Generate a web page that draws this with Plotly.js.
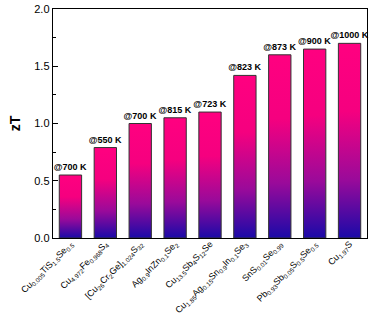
<!DOCTYPE html>
<html>
<head>
<meta charset="utf-8">
<script src="https://cdn.plot.ly/plotly-3.0.1.min.js"></script>
<style>html,body{margin:0;padding:0;background:#fff;}#chart{width:375px;height:314px;}</style>
</head>
<body>
<div id="chart"></div>
<script>
const categories = [
  "Cu<sub>0.005</sub>TiS<sub>1.5</sub>Se<sub>0.5</sub>",
  "Cu<sub>4.972</sub>Fe<sub>0.968</sub>S<sub>4</sub>",
  "[Cu<sub>26</sub>Cr<sub>2</sub>Ge]<sub>1.024</sub>S<sub>32</sub>",
  "Ag<sub>0.9</sub>InZn<sub>0.1</sub>Se<sub>2</sub>",
  "Cu<sub>13.5</sub>Sb<sub>4</sub>S<sub>12</sub>Se",
  "Cu<sub>1.85</sub>Ag<sub>0.15</sub>Sn<sub>0.9</sub>In<sub>0.1</sub>Se<sub>3</sub>",
  "SnS<sub>0.01</sub>Se<sub>0.99</sub>",
  "Pb<sub>0.93</sub>Sb<sub>0.05</sub>S<sub>0.5</sub>Se<sub>0.5</sub>",
  "Cu<sub>1.97</sub>S"
];
const zT = [0.55, 0.79, 1.00, 1.05, 1.10, 1.42, 1.60, 1.65, 1.70];
const tempLabels = ["@700 K", "@550 K", "@700 K", "@815 K", "@723 K", "@823 K", "@873 K", "@900 K", "@1000 K"];
const yTickVals = [0, 0.5, 1.0, 1.5, 2.0];

const trace = {
  type: 'bar',
  x: categories,
  y: zT,
  text: tempLabels,
  textposition: 'outside',
  cliponaxis: false,
  constraintext: 'none',
  textfont: {family: 'Arial, Liberation Sans', size: 9, color: '#000', weight: 'bold'},
  marker: {color: '#ff0080', line: {color: '#333', width: 1}},
  width: 0.64,
  hoverinfo: 'none'
};

const layout = {
  width: 375, height: 314,
  margin: {l: 53, r: 8, t: 9, b: 76},
  paper_bgcolor: '#fff', plot_bgcolor: '#fff',
  showlegend: false,
  font: {family: 'Arial, Liberation Sans', color: '#000'},
  xaxis: {
    tickangle: -45,
    tickfont: {size: 9, color: '#000'},
    ticklabelstandoff: -4,
    showline: true, linecolor: '#000', linewidth: 1.3, mirror: true,
    ticks: '', showgrid: false
  },
  yaxis: {
    range: [0, 2.0],
    tickvals: yTickVals,
    tickformat: '.1f',
    ticks: 'inside', ticklen: 5, tickcolor: '#000', tickwidth: 1,
    minor: {ticks: 'inside', ticklen: 3, dtick: 0.25, tickcolor: '#000', showgrid: false},
    tickfont: {size: 11, color: '#000'},
    showline: true, linecolor: '#000', linewidth: 1.3, mirror: true,
    showgrid: false, zeroline: false,
    title: {text: '<b>zT</b>', font: {size: 14, color: '#000'}, standoff: 10}
  }
};

Plotly.newPlot('chart', [trace], layout, {staticPlot: true}).then(function (gd) {
  const svg = gd.querySelector('.main-svg');
  const ns = 'http://www.w3.org/2000/svg';
  let defs = svg.querySelector('defs');
  if (!defs) { defs = document.createElementNS(ns, 'defs'); svg.insertBefore(defs, svg.firstChild); }
  const grad = document.createElementNS(ns, 'linearGradient');
  grad.setAttribute('id', 'zgrad');
  grad.setAttribute('x1', '0'); grad.setAttribute('y1', '0');
  grad.setAttribute('x2', '0'); grad.setAttribute('y2', '1');
  [['0', '#ff0080'], ['0.35', '#f5007f'], ['0.7', '#9a0a9a'], ['1', '#1a0aa8']].forEach(function (s) {
    const st = document.createElementNS(ns, 'stop');
    st.setAttribute('offset', s[0]);
    st.setAttribute('stop-color', s[1]);
    grad.appendChild(st);
  });
  defs.appendChild(grad);
  gd.querySelectorAll('.bars .point path').forEach(function (p) {
    p.style.fill = 'url(#zgrad)';
  });
});
</script>
</body>
</html>
